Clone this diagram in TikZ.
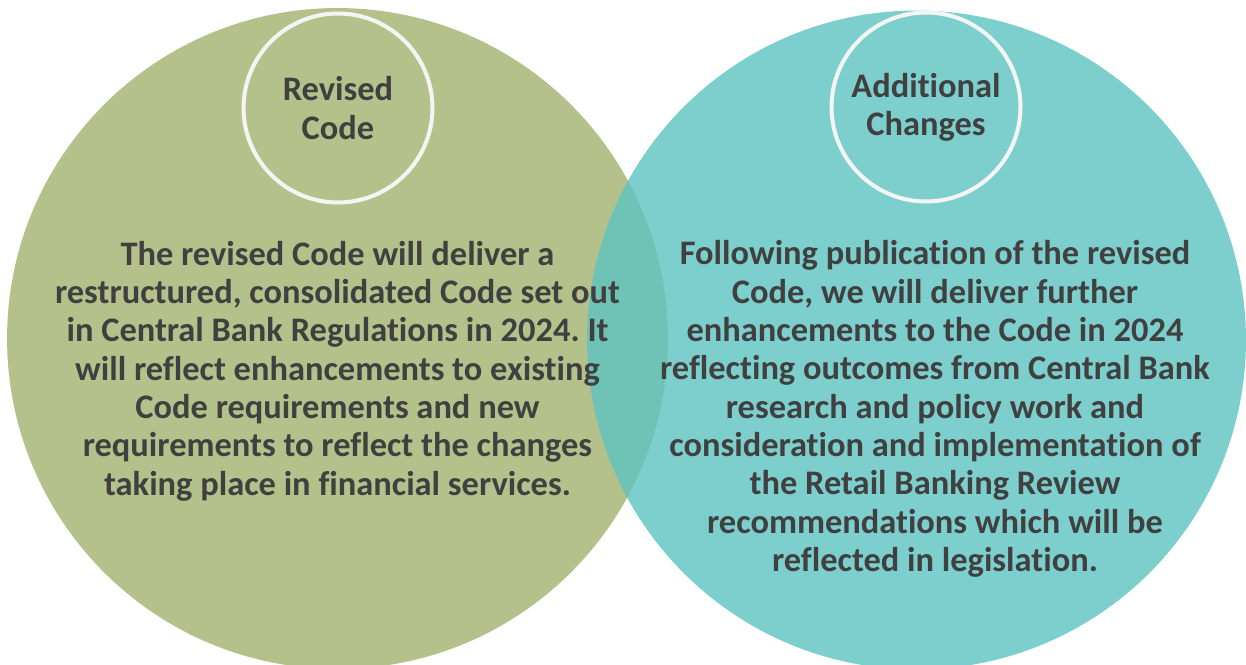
\documentclass[tikz,border=0pt]{standalone}
\usepackage{fontspec}
\setmainfont{Carlito}[Ligatures=NoCommon]
\usepackage{xcolor}
\usepackage{tikz}
\frenchspacing

\definecolor{olivefill}{HTML}{B5C18A}
\definecolor{tealfill}{HTML}{5DC4C2}
\definecolor{ringline}{HTML}{F4F4F4}
\definecolor{textgray}{HTML}{404040}

\tikzset{
  bigdisc/.style={circle, inner sep=0pt, minimum size=13.22cm},
  tagring/.style={circle, draw=ringline, line width=2.3pt, inner sep=0pt,
    minimum size=3.78cm, align=center, text=textgray,
    font=\fontsize{19.6}{21.8}\selectfont\bfseries},
  bodytext/.style={align=center, text=textgray, inner sep=0pt,
    font=\fontsize{19.6}{21.8}\selectfont\bfseries}
}

\begin{document}
\begin{tikzpicture}[x=0.02cm, y=0.02cm]
  \clip (0,0) rectangle (1246,-665);
  \fill[white] (0,0) rectangle (1246,-665);

  % the two overlapping sets
  \node[bigdisc, fill=olivefill] (revised) at (337.5,-338.5) {};
  \node[bigdisc, fill=tealfill, fill opacity=0.8, minimum size=13.18cm] (additional) at (916.5,-340) {};

  % headings in the small rings
  \node[tagring] (revisedtag) at (338,-108) {Revised\\Code};
  \node[tagring] (additionaltag) at (926,-107) {Additional\\Changes};

  % body text
  \node[bodytext] (revisedtext) at (337.5,-371) {The revised Code will deliver a\\
    restructured, consolidated Code set out\\
    in Central Bank Regulations in 2024. It\\
    will reflect enhancements to existing\\
    Code requirements and new\\
    requirements to reflect the changes\\
    taking place in financial services.};
  \node[bodytext] (additionaltext) at (935,-409) {Following publication of the revised\\
    Code, we will deliver further\\
    enhancements to the Code in 2024\\
    reflecting outcomes from Central Bank\\
    research and policy work and\\
    consideration and implementation of\\
    the Retail Banking Review\\
    recommendations which will be\\
    reflected in legislation.};
\end{tikzpicture}
\end{document}
